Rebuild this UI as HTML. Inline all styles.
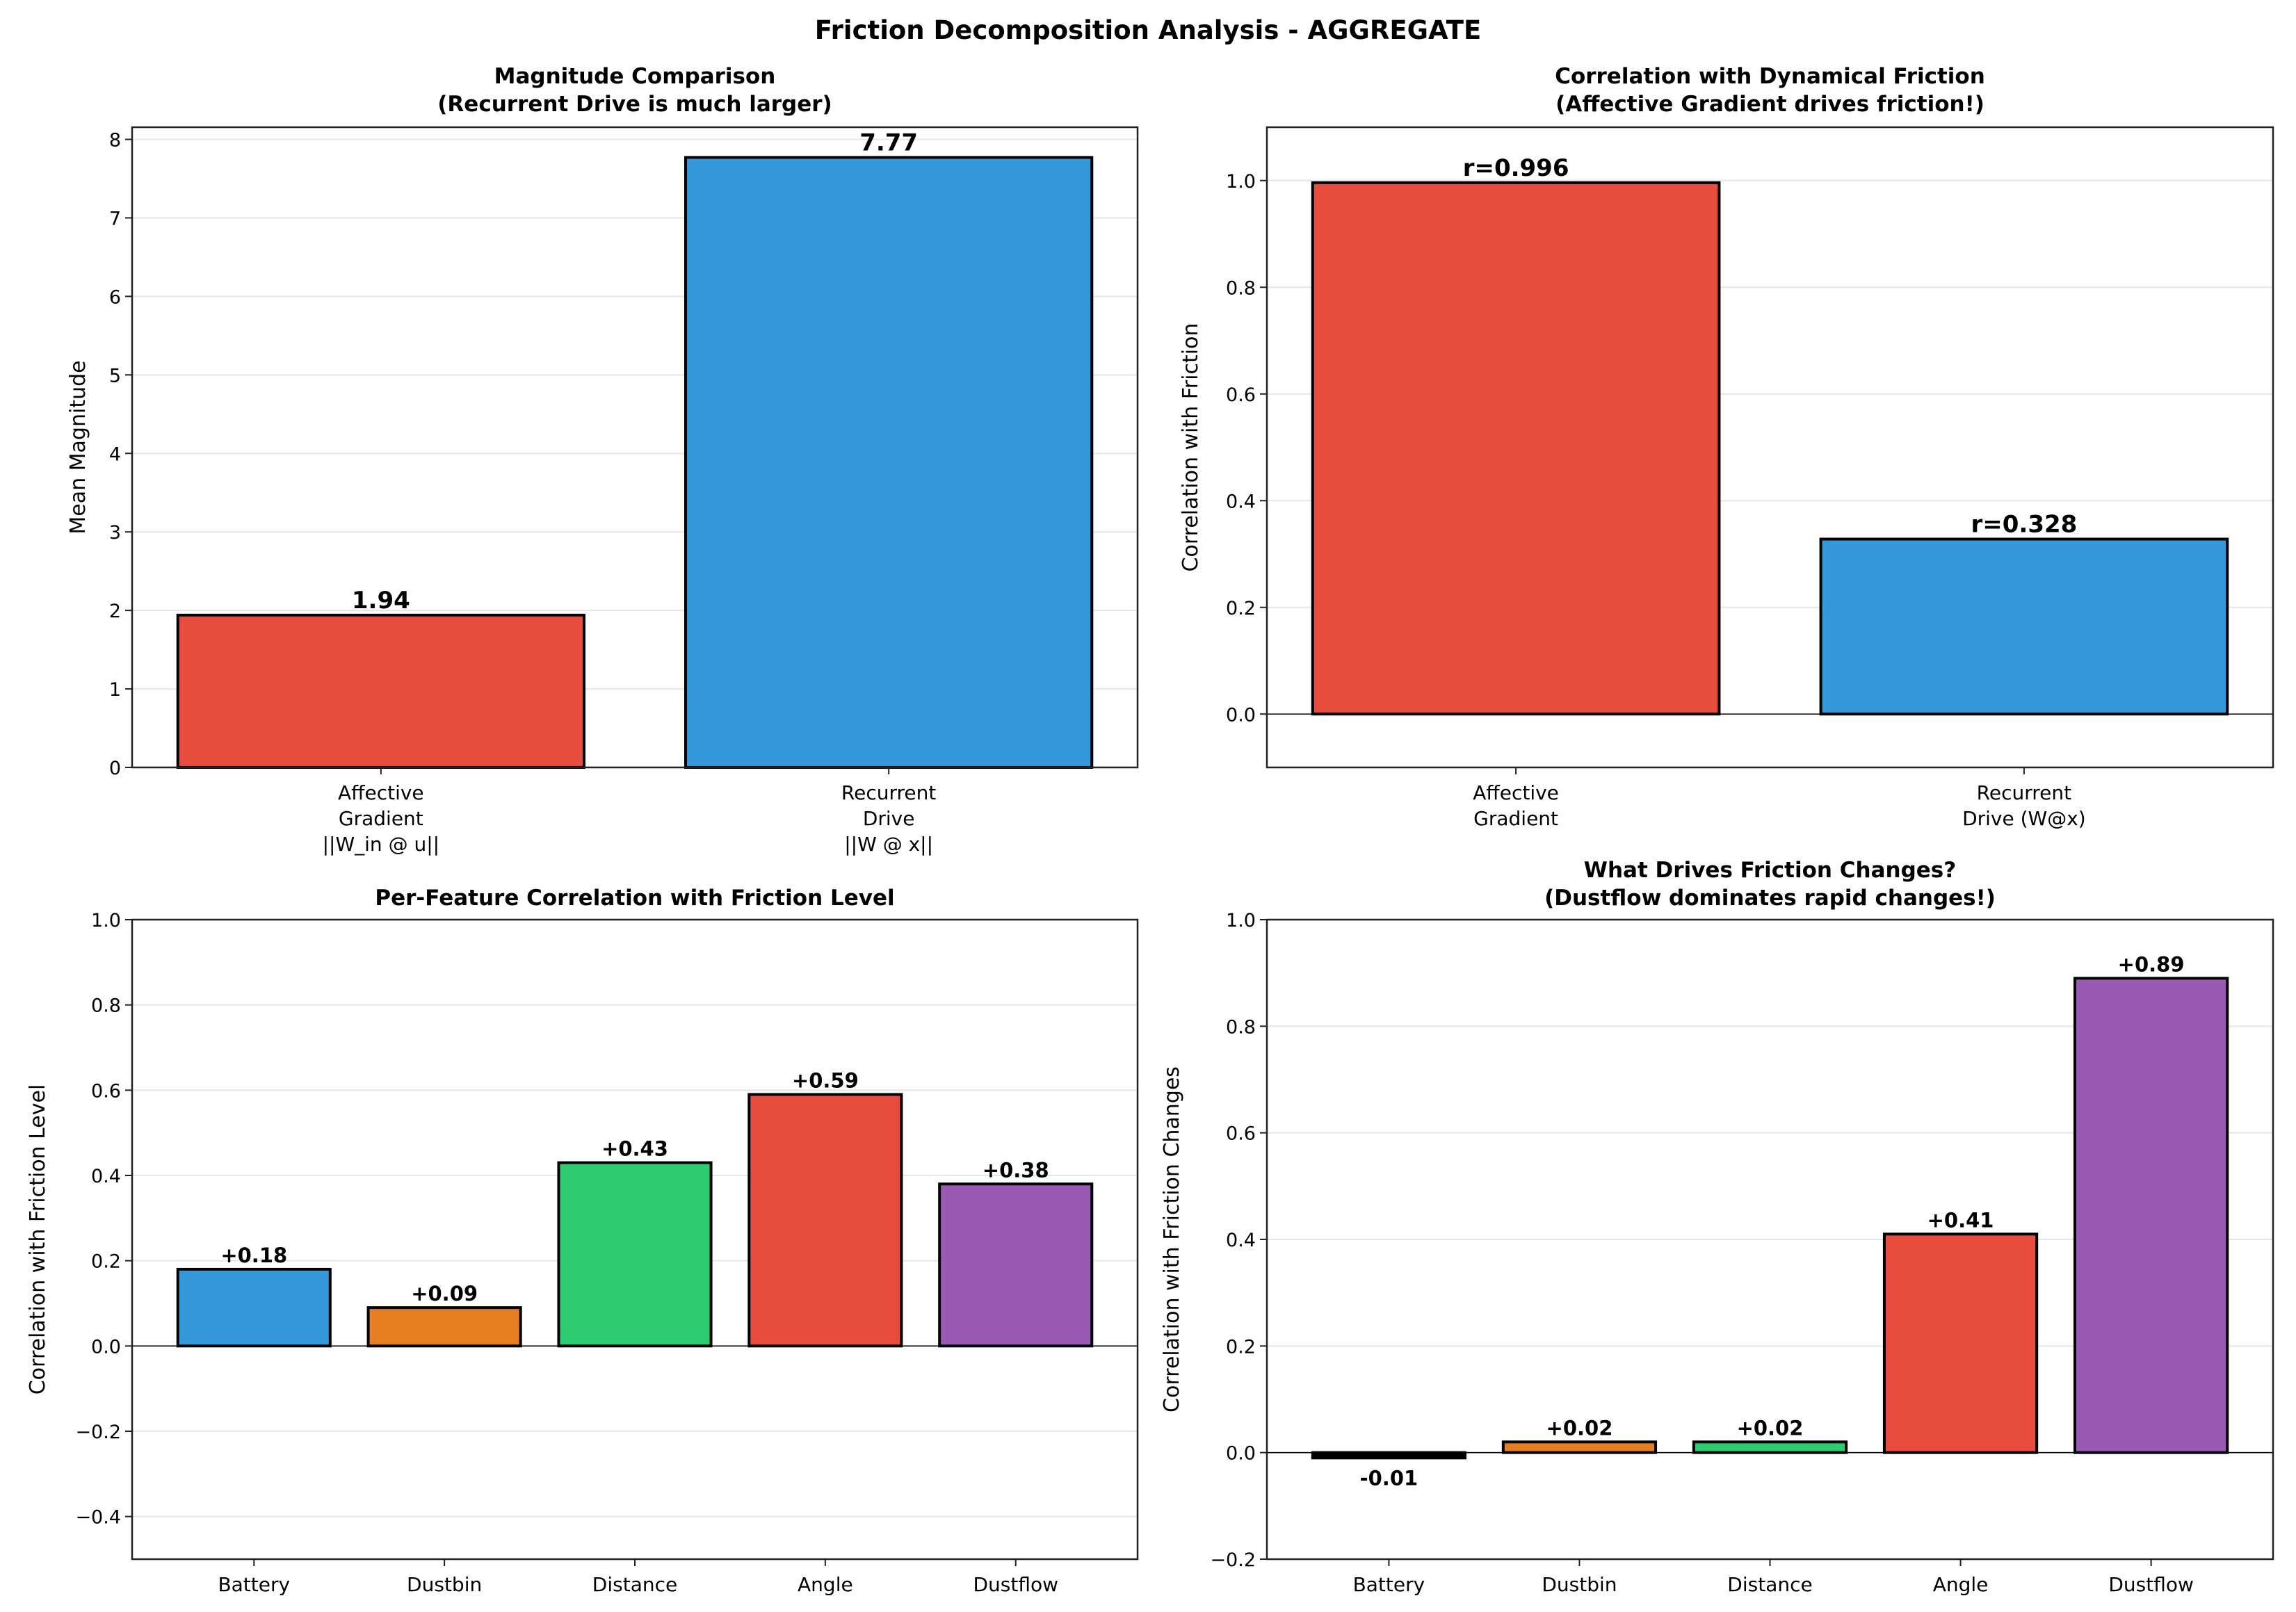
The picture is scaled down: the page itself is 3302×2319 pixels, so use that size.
<!DOCTYPE html>
<html><head><meta charset="utf-8"><style>
html,body{margin:0;padding:0;background:#fff}
svg{display:block;font-family:"DejaVu Sans","Liberation Sans",sans-serif}
</style></head><body>
<svg id="fig" width="3302" height="2319" viewBox="0 0 3302 2319" xmlns="http://www.w3.org/2000/svg">
<rect width="3302" height="2319" fill="#fff"/>
<text x="1651" y="56" text-anchor="middle" font-size="37" font-weight="bold">Friction Decomposition Analysis - AGGREGATE</text>
</svg>
<script>
const magCats = ["Affective\nGradient\n||W_in @ u||", "Recurrent\nDrive\n||W @ x||"];
const magValues = [1.94, 7.77];
const magLabels = ["1.94", "7.77"];
const magTicks = [0,1,2,3,4,5,6,7,8];

const corrCats = ["Affective\nGradient", "Recurrent\nDrive (W@x)"];
const corrValues = [0.996, 0.328];
const corrLabels = ["r=0.996", "r=0.328"];
const corrTicks = [0.0,0.2,0.4,0.6,0.8,1.0];

const featCats = ["Battery","Dustbin","Distance","Angle","Dustflow"];
const levelValues = [0.18, 0.09, 0.43, 0.59, 0.38];
const levelLabels = ["+0.18","+0.09","+0.43","+0.59","+0.38"];
const levelTicks = [-0.4,-0.2,0.0,0.2,0.4,0.6,0.8,1.0];

const changeValues = [-0.01, 0.02, 0.02, 0.41, 0.89];
const changeLabels = ["-0.01","+0.02","+0.02","+0.41","+0.89"];
const changeTicks = [-0.2,0.0,0.2,0.4,0.6,0.8,1.0];

const C = {red:"#e74c3c",blue:"#3498db",orange:"#e67e22",green:"#2ecc71",purple:"#9b59b6"};
const NS = "http://www.w3.org/2000/svg";
const fig = document.getElementById('fig');
function mk(tag, attrs, parent){const e=document.createElementNS(NS,tag);for(const k in attrs)e.setAttribute(k,attrs[k]);(parent||fig).appendChild(e);return e;}

function panel(o){
  const g = mk('g',{});
  
  
  const n = o.values.length;
  const xmin = -0.4 - 0.05*(n-1+0.8), xmax = n-1+0.4 + 0.05*(n-1+0.8);
  const X = v => o.x0 + (v - xmin)/(xmax - xmin)*(o.x1 - o.x0);
  const Y = v => o.y1 - (v - o.ymin)/(o.ymax - o.ymin)*(o.y1 - o.y0);
  o.ticks.forEach(t=>{
    const gl = mk('line',{x1:o.x0,x2:o.x1,y1:Y(t),y2:Y(t),stroke:"#e6e6e6","stroke-width":2},g);
    
    
  });
  if (o.zero){
    const z = mk('line',{x1:o.x0,x2:o.x1,y1:Y(0),y2:Y(0),stroke:"#000","stroke-width":1.6},g);
    
    
  }
  o.values.forEach((v,i)=>{
    const top = Y(Math.max(v,0)), bot = Y(Math.min(v,0));
    const h = bot-top;
    const b = mk('rect',{x:X(i-0.4),y:top,width:X(i+0.4)-X(i-0.4),height:Math.max(h,0.5),fill:(v<0&&h<10)?"#000":o.colors[i],stroke:"#000","stroke-width":4},g);
    
    
    const ly = v>=0 ? top-10 : bot + o.lblSize + 10;
    const t = mk('text',{x:X(i),y:ly,"text-anchor":"middle","font-size":o.lblSize,"font-weight":"bold"},g);
    t.textContent = o.labels[i];
    
    
  });
  const f = mk('rect',{x:o.x0,y:o.y0,width:o.x1-o.x0,height:o.y1-o.y0,fill:"none",stroke:"#222","stroke-width":2.5},g);
  
  
  o.ticks.forEach(t=>{
    mk('line',{x1:o.x0-10,x2:o.x0,y1:Y(t),y2:Y(t),stroke:"#222","stroke-width":2},g);
    const tl = mk('text',{x:o.x0-16,y:Y(t)+10,"text-anchor":"end","font-size":27},g);
    tl.textContent = o.fmt(t);
    
    
  });
  o.cats.forEach((c,i)=>{
    mk('line',{x1:X(i),x2:X(i),y1:o.y1,y2:o.y1+10,stroke:"#222","stroke-width":2},g);
    c.split("\n").forEach((line,j)=>{
      const tl = mk('text',{x:X(i),y:o.y1+46+j*37,"text-anchor":"middle","font-size":28},g);
      tl.textContent = line;
      
      
    });
  });
  const yl = mk('text',{x:o.ylx,y:(o.y0+o.y1)/2,"text-anchor":"middle","font-size":30,transform:`rotate(-90 ${o.ylx} ${(o.y0+o.y1)/2})`},g);
  yl.textContent = o.ylabel;
  
  
  o.title.forEach((line,j)=>{
    const tt = mk('text',{x:(o.x0+o.x1)/2,y:o.ty+j*40,"text-anchor":"middle","font-size":31,"font-weight":"bold"},g);
    tt.textContent = line;
    
    
  });
}
const f1 = t=>String(t);
const f2 = t=>(t<0?"\u2212":"")+Math.abs(t).toFixed(1);
panel({name:"magnitude-chart",x0:190,x1:1636,y0:183,y1:1104,ymin:0,ymax:8.155,ticks:magTicks,fmt:f1,
  values:magValues,labels:magLabels,cats:magCats,catsShort:["affective","recurrent"],colors:[C.red,C.blue],
  lblSize:34,zero:false,ylx:122,ylabel:"Mean Magnitude",title:["Magnitude Comparison","(Recurrent Drive is much larger)"],ty:120});
panel({name:"correlation-chart",x0:1822,x1:3269,y0:183,y1:1104,ymin:-0.1,ymax:1.1,ticks:corrTicks,fmt:f2,
  values:corrValues,labels:corrLabels,cats:corrCats,catsShort:["affective","recurrent"],colors:[C.red,C.blue],
  lblSize:34,zero:true,ylx:1722,ylabel:"Correlation with Friction",title:["Correlation with Dynamical Friction","(Affective Gradient drives friction!)"],ty:120});
panel({name:"per-feature-chart",x0:190,x1:1636,y0:1323,y1:2243,ymin:-0.5,ymax:1.0,ticks:levelTicks,fmt:f2,
  values:levelValues,labels:levelLabels,cats:featCats,catsShort:featCats.map(s=>s.toLowerCase()),colors:[C.blue,C.orange,C.green,C.red,C.purple],
  lblSize:29,zero:true,ylx:64,ylabel:"Correlation with Friction Level",title:["Per-Feature Correlation with Friction Level"],ty:1302});
panel({name:"friction-changes-chart",x0:1822,x1:3269,y0:1323,y1:2243,ymin:-0.2,ymax:1.0,ticks:changeTicks,fmt:f2,
  values:changeValues,labels:changeLabels,cats:featCats,catsShort:featCats.map(s=>s.toLowerCase()),colors:[C.blue,C.orange,C.green,C.red,C.purple],
  lblSize:29,zero:true,ylx:1695,ylabel:"Correlation with Friction Changes",title:["What Drives Friction Changes?","(Dustflow dominates rapid changes!)"],ty:1262});
</script>
</body></html>
